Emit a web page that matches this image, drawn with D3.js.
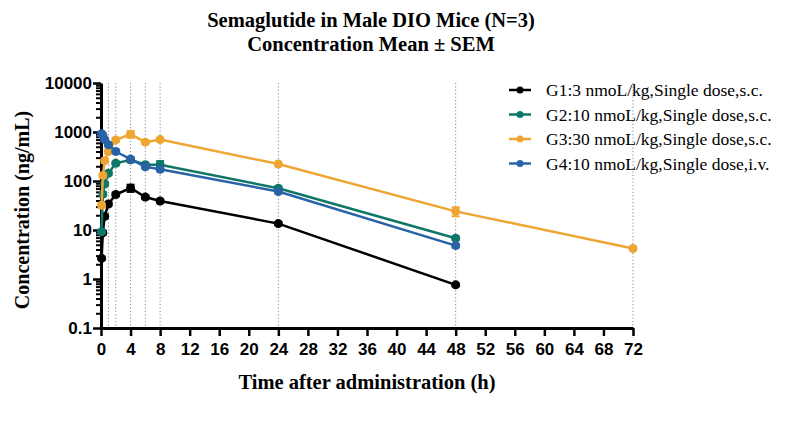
<!DOCTYPE html>
<html><head><meta charset="utf-8">
<script src="https://cdn.jsdelivr.net/npm/d3@7"></script>
<style>body{margin:0;background:#fff}svg{display:block}</style>
</head><body>
<svg id="c" width="787" height="434"></svg>
<script>
// ---- data ----
const titleLines = ["Semaglutide in Male DIO Mice (N=3)", "Concentration Mean \u00b1 SEM"];
const xLabel = "Time after administration (h)";
const yLabel = "Concentration (ng/mL)";
const groupNames = ["G1:3 nmoL/kg,Single dose,s.c.", "G2:10 nmoL/kg,Single dose,s.c.", "G3:30 nmoL/kg,Single dose,s.c.", "G4:10 nmoL/kg,Single dose,i.v."];
const groupColors = ["#000000", "#0e7767", "#eea632", "#2763a6"];
const timesG1 = [0.083, 0.25, 0.5, 1, 2, 4, 6, 8, 24, 48];
const meanG1 = [2.64, 8.8, 19, 34, 53, 72, 47, 39, 13.5, 0.76];
const semG1  = [0.2, 0.6, 1.5, 2.5, 4, 12, 4, 3, 1, 0.05];
const timesG2 = [0.083, 0.25, 0.5, 1, 2, 4, 6, 8, 24, 48];
const meanG2 = [9.2, 54, 87, 144, 230, 270, 215, 215, 71, 6.8];
const semG2  = [0.8, 5, 8, 12, 20, 30, 20, 40, 6, 0.5];
const timesG3 = [0.083, 0.25, 0.5, 1, 2, 4, 6, 8, 24, 48, 72];
const meanG3 = [32, 130, 260, 400, 690, 900, 620, 700, 222, 24, 4.2];
const semG3  = [3, 12, 25, 35, 60, 140, 50, 60, 20, 5, 0.3];
const timesG4 = [0.083, 0.25, 0.5, 1, 2, 4, 6, 8, 24, 48];
const meanG4 = [920, 850, 700, 550, 400, 280, 195, 173, 61, 4.8];
const semG4  = [70, 60, 50, 40, 30, 25, 15, 15, 5, 0.4];
const gridTimes = [1, 2, 4, 6, 8, 24, 48, 72];
const xTicks = d3.range(0, 73, 4);
const yTicks = [0.1, 1, 10, 100, 1000, 10000];
const yTickLabels = ["0.1", "1", "10", "100", "1000", "10000"];

const groups = [
  {t: timesG1, m: meanG1, s: semG1},
  {t: timesG2, m: meanG2, s: semG2},
  {t: timesG3, m: meanG3, s: semG3},
  {t: timesG4, m: meanG4, s: semG4}
];

// ---- layout ----
const svg = d3.select("#c");
const x = d3.scaleLinear().domain([0, 72]).range([101, 633]);
const y = d3.scaleLog().domain([0.1, 10000]).range([328, 83]);
const serif = "'Liberation Serif', 'Times New Roman', serif";
const sans = "'Liberation Sans', Arial, sans-serif";

// title
svg.append("g").selectAll("text").data(titleLines).join("text")
  .attr("x", 371).attr("y", (d, i) => 27 + i * 24)
  .attr("text-anchor", "middle")
  .style("font-family", serif)
  .style("font-weight", "bold").style("font-size", "20.5px")
  .text(d => d);

// dotted grid lines
svg.append("g").selectAll("line").data(gridTimes).join("line")
  .attr("x1", d => x(d)).attr("x2", d => x(d))
  .attr("y1", y(10000)).attr("y2", y(0.1))
  .attr("stroke", "#8a8a8a").attr("stroke-width", 1)
  .attr("stroke-dasharray", "1.2,2.2");

// minor y ticks
const minor = [];
for (let e = -1; e < 4; e++) for (let k = 2; k < 10; k++) minor.push(k * Math.pow(10, e));
const gyMinor = svg.append("g").attr("transform", `translate(${x(0)},0)`)
  .call(d3.axisLeft(y).tickValues(minor).tickFormat("").tickSize(5));
gyMinor.select(".domain").remove();
gyMinor.selectAll("line").attr("stroke-width", 2);

// major y axis
const gy = svg.append("g").attr("transform", `translate(${x(0)},0)`)
  .call(d3.axisLeft(y).tickValues(yTicks).tickFormat((d, i) => yTickLabels[i]).tickSize(8).tickSizeOuter(0).tickPadding(1));
gy.select(".domain").attr("stroke-width", 3);
gy.selectAll(".tick line").attr("stroke-width", 2.5);
gy.selectAll(".tick text")
  .style("font-family", sans)
  .style("font-weight", "bold").style("font-size", "17px").attr("fill", "#000");

// x axis
const gx = svg.append("g").attr("transform", `translate(0,${y(0.1)})`)
  .call(d3.axisBottom(x).tickValues(xTicks).tickSize(8).tickSizeOuter(0).tickPadding(7));
gx.select(".domain").attr("stroke-width", 3);
gx.selectAll(".tick line").attr("stroke-width", 2.5);
gx.selectAll(".tick text")
  .style("font-family", sans)
  .style("font-weight", "bold").style("font-size", "17px").attr("fill", "#000");

// axis labels
svg.append("text").attr("x", 367).attr("y", 389).attr("text-anchor", "middle")
  .style("font-family", serif)
  .style("font-weight", "bold").style("font-size", "20.5px").text(xLabel);
svg.append("text").attr("transform", "translate(29,210) rotate(-90)").attr("text-anchor", "middle")
  .style("font-family", serif)
  .style("font-weight", "bold").style("font-size", "20px").text(yLabel);

// series
const line = d3.line().x(d => x(d.t)).y(d => y(d.m));
groups.forEach((g, gi) => {
  const pts = g.t.map((t, i) => ({t, m: g.m[i], s: g.s[i]}));
  const col = groupColors[gi];
  const gg = svg.append("g");
  gg.append("path").datum(pts).attr("d", line).attr("fill", "none")
    .attr("stroke", col).attr("stroke-width", 2.5);
  const eb = gg.append("g").selectAll("g").data(pts).join("g");
  eb.append("line").attr("x1", d => x(d.t)).attr("x2", d => x(d.t))
    .attr("y1", d => y(d.m + d.s)).attr("y2", d => y(Math.max(d.m - d.s, 0.1)))
    .attr("stroke", col).attr("stroke-width", 2);
  eb.append("line").attr("x1", d => x(d.t) - 4).attr("x2", d => x(d.t) + 4)
    .attr("y1", d => y(d.m + d.s)).attr("y2", d => y(d.m + d.s))
    .attr("stroke", col).attr("stroke-width", 2);
  eb.append("line").attr("x1", d => x(d.t) - 4).attr("x2", d => x(d.t) + 4)
    .attr("y1", d => y(d.m - d.s)).attr("y2", d => y(d.m - d.s))
    .attr("stroke", col).attr("stroke-width", 2);
  gg.append("g").selectAll("circle").data(pts).join("circle")
    .attr("cx", d => x(d.t)).attr("cy", d => y(d.m)).attr("r", 4.5).attr("fill", col);
});

// legend
const lg = svg.append("g").selectAll("g").data(groupNames).join("g")
  .attr("transform", (d, i) => `translate(509,${90 + i * 24.5})`);
lg.append("line").attr("x1", 0).attr("x2", 22).attr("stroke", (d, i) => groupColors[i]).attr("stroke-width", 2.5);
lg.append("circle").attr("cx", 11).attr("r", 3.5).attr("fill", (d, i) => groupColors[i]);
lg.append("text").attr("x", 37).attr("y", 6)
  .style("font-family", serif)
  .style("font-size", "17.5px").attr("fill", "#000").text(d => d);
</script>
</body></html>
